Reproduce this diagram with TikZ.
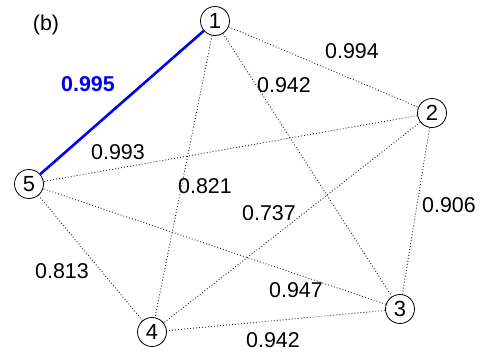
\documentclass[tikz,border=0pt]{standalone}
\usepackage{fontspec}
\setmainfont{Liberation Sans}
\usepackage{xcolor}
\definecolor{edgeblue}{HTML}{0000F0}
\definecolor{dotgray}{HTML}{222222}
\tikzset{
  vertex/.style={
    circle, draw=black, line width=0.8bp, fill=white,
    minimum size=29bp, inner sep=0pt,
    font=\fontsize{22}{26}\selectfont
  },
  weightlabel/.style={
    font=\fontsize{21.5}{26}\selectfont, inner sep=0pt
  },
  weakedge/.style={
    line width=0.9bp, dash pattern=on 0.9bp off 2.1bp, color=dotgray
  },
  strongedge/.style={
    line width=2.6bp, color=edgeblue
  },
}

\begin{document}
\begin{tikzpicture}[x=1bp, y=-1bp]
  \useasboundingbox (0,0) rectangle (483,352);
  % vertices
  \node[vertex] (v1) at (215,21) {1};
  \node[vertex] (v2) at (432,113) {2};
  \node[vertex] (v3) at (400,309) {3};
  \node[vertex] (v4) at (152,332) {4};
  \node[vertex] (v5) at (29,184) {5};
  % edges
  \draw[strongedge] (v1) -- (v5);
  \draw[weakedge] (v1) -- (v2);
  \draw[weakedge] (v1) -- (v3);
  \draw[weakedge] (v1) -- (v4);
  \draw[weakedge] (v2) -- (v3);
  \draw[weakedge] (v2) -- (v4);
  \draw[weakedge] (v2) -- (v5);
  \draw[weakedge] (v3) -- (v4);
  \draw[weakedge] (v3) -- (v5);
  \draw[weakedge] (v4) -- (v5);
  % weights
  \node[weightlabel] (tag) at (46,25) {(b)};
  \node[weightlabel, text=edgeblue, font=\fontsize{21.5}{26}\selectfont\bfseries] (w15) at (88,84) {0.995};
  \node[weightlabel] (w12) at (352,51) {0.994};
  \node[weightlabel] (w13) at (284,85) {0.942};
  \node[weightlabel] (w25) at (118,152) {0.993};
  \node[weightlabel] (w14) at (205,186) {0.821};
  \node[weightlabel] (w24) at (269,213) {0.737};
  \node[weightlabel] (w23) at (449,205) {0.906};
  \node[weightlabel] (w45) at (62,271) {0.813};
  \node[weightlabel] (w35) at (296,290) {0.947};
  \node[weightlabel] (w34) at (273,340) {0.942};
\end{tikzpicture}
\end{document}
